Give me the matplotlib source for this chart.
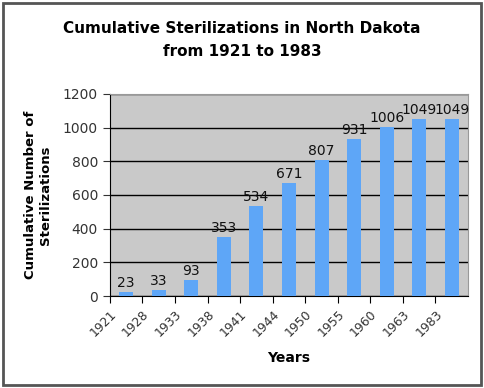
import numpy as np
import matplotlib.pyplot as plt
from matplotlib.patches import Rectangle

years = ["1921", "1928", "1933", "1938", "1941", "1944", "1950", "1955", "1960", "1963", "1983"]
totals = [23, 33, 93, 353, 534, 671, 807, 931, 1006, 1049, 1049]

fig = plt.figure(figsize=(4.84, 3.88), dpi=100)
ax = fig.add_axes([0.227, 0.237, 0.740, 0.521])
ax.set_facecolor("#c9c9c9")

x = np.arange(len(years))
ax.bar(x, totals, width=0.43, color="#5ea6f7", zorder=3)
for a, b in zip(x, totals):
    ax.text(a, b + 12, str(b), ha="center", va="bottom", fontsize=10, color="#111111", zorder=4)

ax.set_ylim(0, 1200)
ax.set_xlim(-0.5, len(years) - 0.5)
ax.set_yticks(range(0, 1201, 200))
ax.yaxis.grid(True, color="black", linewidth=1, zorder=1)
ax.set_axisbelow(True)

# labels sit on the category boundaries, like the original
ax.set_xticks(x - 0.5)
ax.set_xticklabels(years, rotation=45, ha="right", rotation_mode="anchor", fontsize=9, color="#333333")
ax.tick_params(axis="y", labelsize=10, colors="#333333", direction="out", length=5)
ax.tick_params(axis="x", direction="out", length=5)

for side in ["top", "right"]:
    ax.spines[side].set_color("#999999")
ax.spines["left"].set_color("black")
ax.spines["bottom"].set_color("black")

ax.set_xlabel("Years", fontsize=10, fontweight="bold", labelpad=8)
ax.set_ylabel("Cumulative Number of\nSterilizations", fontsize=9.5, fontweight="bold", labelpad=8)

fig.suptitle("Cumulative Sterilizations in North Dakota\nfrom 1921 to 1983", y=0.945, fontsize=11,
             fontweight="bold", linespacing=1.6)

fig.patches.append(Rectangle((0.006, 0.008), 0.988, 0.984, transform=fig.transFigure,
                             fill=False, edgecolor="#555555", linewidth=2))

fig.savefig("out.png", dpi=100)
